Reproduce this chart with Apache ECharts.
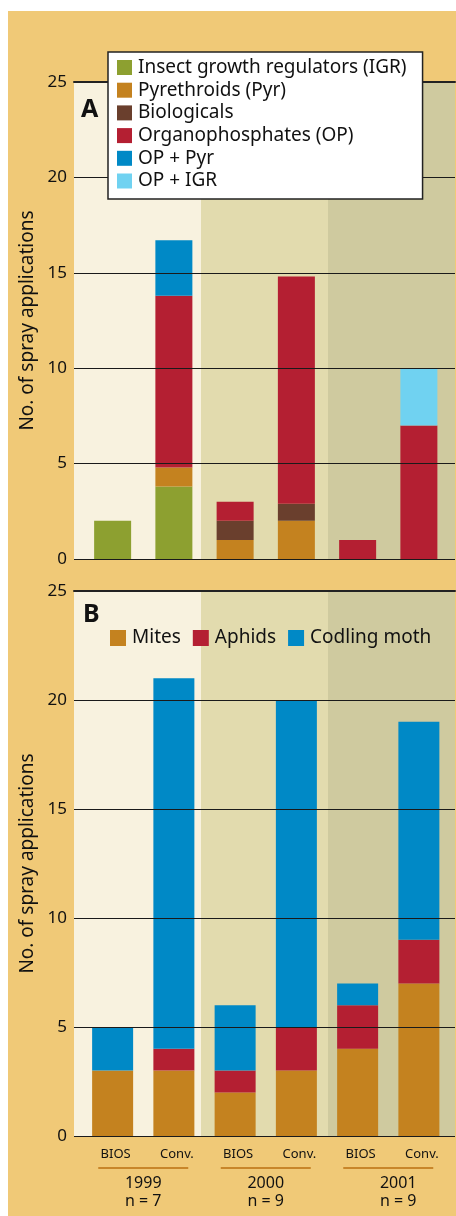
<!DOCTYPE html>
<html>
<head>
<meta charset="utf-8">
<script src="https://cdn.jsdelivr.net/npm/echarts@6/dist/echarts.min.js"></script>
<style>
html,body{margin:0;padding:0;background:#fff;}
#wrap{position:relative;width:456px;height:1216px;}
#bg{position:absolute;left:8px;top:11px;right:0;bottom:0;background:#F0C977;}
#chart{position:absolute;left:0;top:0;width:456px;height:1216px;}
</style>
</head>
<body>
<div id="wrap"><div id="bg"></div><div id="chart"></div></div>
<script>
// ---- data ----
const categories = ['BIOS', 'Conv.', 'BIOS', 'Conv.', 'BIOS', 'Conv.'];
const years = ['1999', '2000', '2001'];
const nLabels = ['n = 7', 'n = 9', 'n = 9'];
const yTicks = [0, 5, 10, 15, 20, 25];

// Panel A: insecticide classes
const igr   = [2, 3.8, 0, 0, 0, 0];
const pyr   = [0, 1, 1, 2, 0, 0];
const bio   = [0, 0, 1, 0.9, 0, 0];
const op    = [0, 9, 1, 11.9, 1, 7];
const opPyr = [0, 2.9, 0, 0, 0, 0];
const opIgr = [0, 0, 0, 0, 0, 3];

// Panel B: target pests
const mites   = [3, 3, 2, 3, 4, 7];
const aphids  = [0, 1, 1, 2, 2, 2];
const codling = [2, 17, 3, 15, 1, 10];

const namesA = ['Insect growth regulators (IGR)', 'Pyrethroids (Pyr)', 'Biologicals', 'Organophosphates (OP)', 'OP + Pyr', 'OP + IGR'];
const namesB = ['Mites', 'Aphids', 'Codling moth'];

// ---- styles ----
const FONT = '"Noto Sans", "Open Sans", sans-serif';
const C = {
  igr: '#8DA030', pyr: '#C4821F', bio: '#6A3F2D', op: '#B41F32', opPyr: '#0089C6', opIgr: '#70D2F1'
};
const bands = ['#F8F2DF', '#E2DBAE', '#CFCA9F'];
const underline = '#C8862A';

const BG_L = 74, BG_W = 381;
const BAR_L = 82, BAR_W = 367.5;
const A_TOP = 82, A_H = 477;
const B_TOP = 591, B_H = 545;

function bgY(gi) {
  return {
    gridIndex: gi, type: 'value', min: yTicks[0], max: yTicks[yTicks.length - 1], interval: 5, z: 10,
    axisLine: {show: false}, axisTick: {show: false},
    axisLabel: {fontFamily: FONT, fontSize: 17, color: '#111', margin: 7},
    splitLine: {show: true, lineStyle: {color: '#1a1a1a', width: 1.2}},
    name: 'No. of spray applications', nameLocation: 'middle', nameGap: 35,
    nameTextStyle: {fontFamily: FONT, fontSize: 19, color: '#111'}
  };
}
function hiddenY(gi) {
  return {gridIndex: gi, type: 'value', min: 0, max: 25, interval: 5, show: false, splitLine: {show: false}};
}
function bandX(gi) {
  return {
    gridIndex: gi, type: 'category', data: years, boundaryGap: true, z: 0,
    axisLine: {show: false}, axisTick: {show: false}, axisLabel: {show: false},
    splitLine: {show: false},
    splitArea: {show: true, interval: 0, areaStyle: {color: bands}}
  };
}
function baseX(gi) {
  return {
    gridIndex: gi, type: 'category', data: years, z: 11,
    axisLine: {show: true, lineStyle: {color: '#222', width: 2}},
    axisTick: {show: false}, axisLabel: {show: false}, splitLine: {show: false}
  };
}

const seriesA = [
  [namesA[0], igr, C.igr], [namesA[1], pyr, C.pyr], [namesA[2], bio, C.bio],
  [namesA[3], op, C.op], [namesA[4], opPyr, C.opPyr], [namesA[5], opIgr, C.opIgr]
].map(([n, d, c]) => ({
  name: n, type: 'bar', stack: 'A', xAxisIndex: 1, yAxisIndex: 1, data: d,
  barWidth: 37, itemStyle: {color: c}, z: 3
}));
const seriesB = [
  [namesB[0], mites, C.pyr], [namesB[1], aphids, C.op], [namesB[2], codling, C.opPyr]
].map(([n, d, c]) => ({
  name: n, type: 'bar', stack: 'B', xAxisIndex: 3, yAxisIndex: 3, data: d,
  barWidth: 41, itemStyle: {color: c}, z: 3
}));

const yearRich = {
  u: {width: 90, height: 2, lineHeight: 12, backgroundColor: underline},
  y: {fontFamily: FONT, fontSize: 16, color: '#111', lineHeight: 18},
  y3: {fontFamily: FONT, fontSize: 16, color: '#111', lineHeight: 18, padding: [0, 0, 0, 20]}
};

const option = {
  backgroundColor: 'transparent',
  animation: false,
  textStyle: {fontFamily: FONT},
  title: [
    {text: 'A', left: 76, top: 92, textStyle: {fontFamily: FONT, fontSize: 25, fontWeight: 'bold', color: '#111'}, z: 12},
    {text: 'B', left: 78, top: 597, textStyle: {fontFamily: FONT, fontSize: 25, fontWeight: 'bold', color: '#111'}, z: 12}
  ],
  legend: [
    {
      data: namesA, orient: 'vertical', left: 108, top: 52, z: 20,
      backgroundColor: '#fff', borderColor: '#222', borderWidth: 1.5,
      padding: [6, 16, 8.5, 9], itemGap: 3.7, itemWidth: 15, itemHeight: 15, icon: 'rect',
      textStyle: {fontFamily: FONT, fontSize: 19, color: '#111', padding: [0, 0, 0, 1]},
      selectedMode: false
    },
    {
      data: namesB, orient: 'horizontal', left: 110, top: 628.5, z: 20,
      itemGap: 12, itemWidth: 16, itemHeight: 16, icon: 'rect', padding: 0,
      textStyle: {fontFamily: FONT, fontSize: 19, color: '#111', padding: [0, 0, 0, 1]},
      selectedMode: false
    }
  ],
  grid: [
    {left: BG_L, width: BG_W, top: A_TOP, height: A_H},
    {left: BAR_L, width: BAR_W, top: A_TOP, height: A_H},
    {left: BG_L, width: BG_W, top: B_TOP, height: B_H},
    {left: BAR_L, width: BAR_W, top: B_TOP, height: B_H}
  ],
  xAxis: [
    bandX(0),
    {gridIndex: 1, type: 'category', data: categories, show: false},
    bandX(2),
    {
      gridIndex: 3, type: 'category', data: categories,
      axisLine: {show: false}, axisTick: {show: false},
      axisLabel: {fontFamily: FONT, fontSize: 13, color: '#111', margin: 12, padding: [0, 0, 0, 6]}
    },
    {
      gridIndex: 3, type: 'category', data: years, position: 'bottom',
      axisLine: {show: false}, axisTick: {show: false},
      axisLabel: {
        margin: 26, interval: 0,
        formatter: (v, i) => '{u|}\n{' + (i === 2 ? 'y3' : 'y') + '|' + v + '}\n{' + (i === 2 ? 'y3' : 'y') + '|' + nLabels[i] + '}',
        rich: yearRich
      }
    },
    baseX(0),
    baseX(2)
  ],
  yAxis: [bgY(0), hiddenY(1), bgY(2), hiddenY(3)],
  series: seriesA.concat(seriesB)
};

const chart = echarts.init(document.getElementById('chart'), null, {renderer: 'canvas'});
chart.setOption(option);
</script>
</body>
</html>
